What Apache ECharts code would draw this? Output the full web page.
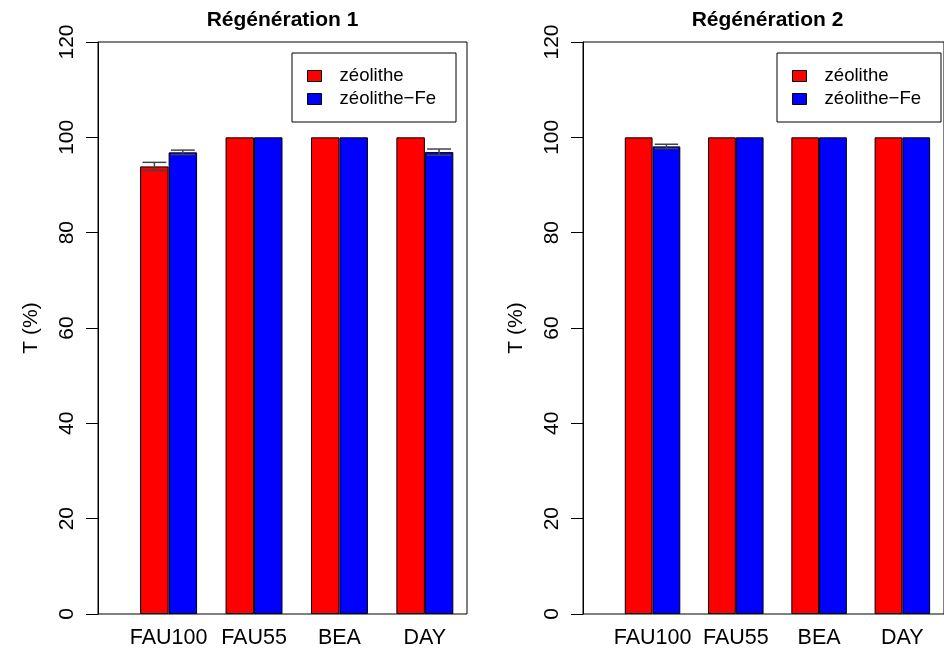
<!DOCTYPE html>
<html>
<head>
<meta charset="utf-8">
<script src="https://cdn.jsdelivr.net/npm/echarts@6/dist/echarts.min.js"></script>
<style>html,body{margin:0;padding:0;background:#fff}#c{width:944px;height:659px}</style>
</head>
<body>
<div id="c"></div>
<script>
const categories = ['FAU100', 'FAU55', 'BEA', 'DAY'];
const seriesNames = ['zéolithe', 'zéolithe\u2212Fe'];
const panelTitles = ['Régénération 1', 'Régénération 2'];
const yTicks = [0, 20, 40, 60, 80, 100, 120];
// Régénération 1
const reg1Zeolithe = [93.9, 100, 100, 100];
const reg1ZeolitheFe = [96.85, 100, 100, 96.9];
const reg1ZeolitheErr = [0.85, 0, 0, 0];
const reg1ZeolitheFeErr = [0.47, 0, 0, 0.65];
// Régénération 2
const reg2Zeolithe = [100, 100, 100, 100];
const reg2ZeolitheFe = [98.1, 100, 100, 100];
const reg2ZeolitheErr = [0, 0, 0, 0];
const reg2ZeolitheFeErr = [0.45, 0, 0, 0];

const FONT = 'Liberation Sans, Arial, Helvetica, sans-serif';
const unit = 369 / 12.96;
const panels = [
  {box: 98, z: reg1Zeolithe, f: reg1ZeolitheFe, ze: reg1ZeolitheErr, fe: reg1ZeolitheFeErr},
  {box: 583, z: reg2Zeolithe, f: reg2ZeolitheFe, ze: reg2ZeolitheErr, fe: reg2ZeolitheFeErr}
];

const grid = [], xAxis = [], yAxis = [], series = [], title = [], legend = [], graphic = [];

function errSeries(xi, vals, errs, side) {
  return {
    type: 'custom', xAxisIndex: xi, yAxisIndex: xi, z: 5, silent: true,
    data: vals.map((v, i) => [i, v, errs[i]]),
    renderItem: function (params, api) {
      const e = api.value(2);
      if (!e) return null;
      const bw = api.size([1, 0])[0];
      const c = api.coord([api.value(0), api.value(1)]);
      const x = c[0] + side * bw / 6;
      const top = api.coord([api.value(0), api.value(1) + e])[1];
      const bot = api.coord([api.value(0), api.value(1) - e])[1];
      const hw = bw * 0.14;
      const st = {stroke: '#444', lineWidth: 1.5};
      return {type: 'group', children: [
        {type: 'line', shape: {x1: x, y1: top, x2: x, y2: bot}, style: st},
        {type: 'line', shape: {x1: x - hw, y1: top, x2: x + hw, y2: top}, style: st},
        {type: 'line', shape: {x1: x - hw, y1: bot, x2: x + hw, y2: bot}, style: st}
      ]};
    }
  };
}

panels.forEach((p, k) => {
  const frameIdx = k * 2, barIdx = k * 2 + 1;
  // frame grid (box + y axis)
  grid.push({left: p.box, top: 42, width: 369, height: 572, show: true, borderColor: '#000', borderWidth: 1, backgroundColor: 'transparent'});
  xAxis.push({gridIndex: frameIdx, type: 'value', min: -0.48, max: 12.48, show: false});
  yAxis.push({gridIndex: frameIdx, type: 'value', min: yTicks[0], max: yTicks[yTicks.length - 1], interval: 20,
    name: 'T (%)', nameLocation: 'middle', nameGap: 56, nameRotate: 90,
    nameTextStyle: {fontFamily: FONT, fontSize: 21, color: '#000'},
    axisLine: {show: true, onZero: false, lineStyle: {color: '#000', width: 1}},
    axisTick: {show: true, length: 12, lineStyle: {color: '#000'}},
    axisLabel: {show: true, rotate: 90, margin: 20, fontFamily: FONT, fontSize: 21, color: '#000'},
    splitLine: {show: false}});
  // bar grid
  grid.push({left: p.box + 0.98 * unit, top: 42, width: 12 * unit, height: 572, show: false});
  xAxis.push({gridIndex: barIdx, type: 'category', data: categories,
    axisLine: {show: false}, axisTick: {show: false},
    axisLabel: {margin: 13, fontFamily: FONT, fontSize: 21.5, color: '#000', interval: 0}});
  yAxis.push({gridIndex: barIdx, type: 'value', min: 0, max: 120, show: false});
  series.push({type: 'bar', name: seriesNames[0], xAxisIndex: barIdx, yAxisIndex: barIdx, data: p.z,
    barWidth: '33.333%', barGap: '0%', itemStyle: {color: '#FF0000', borderColor: '#000', borderWidth: 1}});
  series.push({type: 'bar', name: seriesNames[1], xAxisIndex: barIdx, yAxisIndex: barIdx, data: p.f,
    barWidth: '33.333%', barGap: '0%', itemStyle: {color: '#0000FF', borderColor: '#000', borderWidth: 1}});
  series.push(errSeries(barIdx, p.z, p.ze, -1));
  series.push(errSeries(barIdx, p.f, p.fe, 1));
  title.push({text: panelTitles[k], left: p.box + 184.5, textAlign: 'center', top: 10, padding: 0,
    textStyle: {fontFamily: FONT, fontSize: 21, fontWeight: 'bold', color: '#000'}});
  legend.push({orient: 'vertical', left: p.box + 204, top: 61, itemWidth: 14, itemHeight: 11, itemGap: 3,
    icon: 'rect', data: seriesNames, selectedMode: false,
    itemStyle: {borderColor: '#000', borderWidth: 1},
    textStyle: {fontFamily: FONT, fontSize: 18.6, color: '#000', lineHeight: 20, padding: [0, 0, 0, 13]}});
  graphic.push({type: 'rect', shape: {x: p.box + 194, y: 53, width: 164, height: 69},
    style: {fill: 'none', stroke: '#000', lineWidth: 1}, z: 10});
});

const chart = echarts.init(document.getElementById('c'), null, {renderer: 'canvas'});
chart.setOption({animation: false, backgroundColor: '#fff', grid, xAxis, yAxis, series, title, legend, graphic});
</script>
</body>
</html>
